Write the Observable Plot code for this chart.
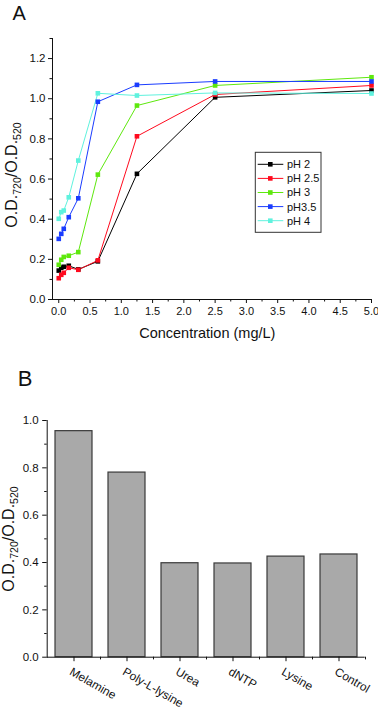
<!DOCTYPE html>
<html><head><meta charset="utf-8">
<script src="https://cdn.jsdelivr.net/npm/d3@7"></script>
<script src="https://cdn.jsdelivr.net/npm/@observablehq/plot@0.6"></script>
<style>
body{margin:0;background:#fff;}
#wrap{position:relative;width:378px;height:712px;overflow:hidden;font-family:"Liberation Sans",Arial,sans-serif;}
#wrap svg{position:absolute;left:0;overflow:visible;}
</style></head><body><div id="wrap"></div>
<script>
// ---------- Panel A data ----------
const concentrations = [0, 0.04, 0.08, 0.16, 0.3125, 0.625, 1.25, 2.5, 5];
const seriesNames = ["pH 2", "pH 2.5", "pH 3", "pH3.5", "pH 4"];
const seriesColors = ["#000000", "#ff0a1e", "#5ee80e", "#1a3cff", "#5ff2de"];
const pH2  = [0.144, 0.158, 0.163, 0.168, 0.150, 0.190, 0.626, 1.007, 1.041];
const pH25 = [0.106, 0.123, 0.133, 0.158, 0.148, 0.195, 0.813, 1.021, 1.066];
const pH3  = [0.173, 0.198, 0.212, 0.218, 0.236, 0.622, 0.966, 1.066, 1.107];
const pH35 = [0.302, 0.327, 0.352, 0.410, 0.504, 0.985, 1.069, 1.086, 1.086];
const pH4  = [0.402, 0.435, 0.443, 0.509, 0.692, 1.027, 1.016, 1.029, 1.026];
const xTicksA = [0, 0.5, 1, 1.5, 2, 2.5, 3, 3.5, 4, 4.5, 5];
const xMinorA = [0.25, 0.75, 1.25, 1.75, 2.25, 2.75, 3.25, 3.75, 4.25, 4.75];
const yTicksA = [0, 0.2, 0.4, 0.6, 0.8, 1.0, 1.2];
const yMinorA = [0.1, 0.3, 0.5, 0.7, 0.9, 1.1, 1.3];

// ---------- Panel B data ----------
const samples = ["Melamine", "Poly-L-lysine", "Urea", "dNTP", "Lysine", "Control"];
const ratios = [0.955, 0.780, 0.397, 0.396, 0.425, 0.434];
const yTicksB = [0, 0.2, 0.4, 0.6, 0.8, 1.0];
const yMinorB = [0.1, 0.3, 0.5, 0.7, 0.9];

const seriesValues = [pH2, pH25, pH3, pH35, pH4];
const rowsA = seriesNames.flatMap((s, k) => concentrations.map((c, i) => ({s, c, v: seriesValues[k][i]})));
const rowsB = samples.map((name, i) => ({name, v: ratios[i]}));

const FONT = "'Liberation Sans', Arial, sans-serif";
const fmt1 = d => d.toFixed(1);
const blank = () => "";

const plotA = Plot.plot({
  width: 378, height: 345,
  marginLeft: 52, marginRight: 7, marginTop: 38, marginBottom: 46,
  style: {fontFamily: FONT, fontSize: "11px", color: "#111", background: "transparent", overflow: "visible"},
  x: {domain: [-0.1, 5.0]},
  y: {domain: [0, 1.3]},
  color: {domain: seriesNames, range: seriesColors},
  marks: [
    Plot.line(rowsA, {x: "c", y: "v", z: "s", stroke: "s", strokeWidth: 1}),
    Plot.dot(rowsA, {x: "c", y: "v", fill: "s", symbol: "square", r: 2.6}),
    Plot.ruleX([-0.1], {stroke: "#111"}),
    Plot.ruleY([0], {stroke: "#111"}),
    Plot.axisX(xTicksA, {tickSize: 4, tickPadding: 4, tickFormat: fmt1, fontSize: 11, label: null}),
    Plot.axisX(xMinorA, {tickSize: 2.5, tickFormat: blank, label: null}),
    Plot.axisY(yTicksA, {tickSize: 4, tickPadding: 3, tickFormat: fmt1, fontSize: 11.5, label: null}),
    Plot.axisY(yMinorA, {tickSize: 2.5, tickFormat: blank, label: null})
  ]
});
plotA.style.top = "0px";

const plotB = Plot.plot({
  width: 378, height: 367,
  marginLeft: 46.7, marginRight: 13.3, marginTop: 75, marginBottom: 55.3,
  style: {fontFamily: FONT, fontSize: "11px", color: "#111", background: "transparent", overflow: "visible"},
  x: {domain: samples, paddingInner: 0.3, paddingOuter: 0.15},
  y: {domain: [0, 1.0]},
  marks: [
    Plot.barY(rowsB, {x: "name", y: "v", fill: "#a9a9a9", stroke: "#3a3a3a", strokeWidth: 1.2}),
    Plot.frame({anchor: "left", stroke: "#111"}),
    Plot.ruleY([0], {stroke: "#111"}),
    Plot.axisX({tickSize: 4.5, tickFormat: blank, label: null}),
    Plot.axisX({dx: 26.5, tickSize: 2.7, tickFormat: blank, label: null}),
    Plot.text(rowsB, {x: "name", y: () => 0, text: "name", rotate: 30, textAnchor: "start", lineAnchor: "top", dx: -1, dy: 9.5, fontSize: 11.8, fill: "#111"}),
    Plot.axisY(yTicksB, {tickSize: 4.5, tickPadding: 4, tickFormat: fmt1, fontSize: 11.5, label: null}),
    Plot.axisY(yMinorB, {tickSize: 2.5, tickFormat: blank, label: null})
  ]
});
plotB.style.top = "345px";

const wrap = document.getElementById("wrap");
wrap.appendChild(plotA);
wrap.appendChild(plotB);

// ---------- annotations ----------
function yTitle(svg, x, y) {
  const t = d3.select(svg).append("text")
    .attr("transform", `translate(${x},${y}) rotate(-90)`)
    .attr("text-anchor", "middle").attr("font-family", FONT).attr("fill", "#111").attr("font-size", 16);
  t.append("tspan").text("O.D.");
  t.append("tspan").attr("font-size", 10.5).attr("dy", 4).text("720");
  t.append("tspan").attr("dy", -4).text("/O.D.");
  t.append("tspan").attr("font-size", 10.5).attr("dy", 4).text("520");
}
const sA = d3.select(plotA);
sA.append("text").attr("x", 12.5).attr("y", 19.5).attr("text-anchor", "start").attr("font-family", FONT).attr("font-size", 20).attr("fill", "#111").text("A");
sA.append("text").attr("x", 207.3).attr("y", 337.5).attr("text-anchor", "middle").attr("font-family", FONT).attr("font-size", 14.5).attr("fill", "#111").text("Concentration (mg/L)");
yTitle(plotA, 16.5, 175);

// legend
const lg = sA.append("g");
lg.append("rect").attr("x", 255.3).attr("y", 152.3).attr("width", 65.7).attr("height", 80).attr("fill", "#fff").attr("stroke", "#333").attr("stroke-width", 1);
seriesNames.forEach((name, i) => {
  const y = 164.3 + i * 14.1;
  lg.append("line").attr("x1", 257.7).attr("x2", 283.3).attr("y1", y).attr("y2", y).attr("stroke", seriesColors[i]).attr("stroke-width", 1);
  lg.append("rect").attr("x", 268).attr("y", y - 2.3).attr("width", 4.6).attr("height", 4.6).attr("fill", seriesColors[i]);
  lg.append("text").attr("x", 287).attr("y", y).attr("dy", "0.36em").attr("text-anchor", "start").attr("font-family", FONT).attr("font-size", 11).attr("fill", "#111").text(name);
});

const sB = d3.select(plotB);
sB.append("text").attr("x", 17.8).attr("y", 40.7).attr("text-anchor", "start").attr("font-family", FONT).attr("font-size", 22).attr("fill", "#111").text("B");
yTitle(plotB, 13.8, 194);
</script></body></html>
